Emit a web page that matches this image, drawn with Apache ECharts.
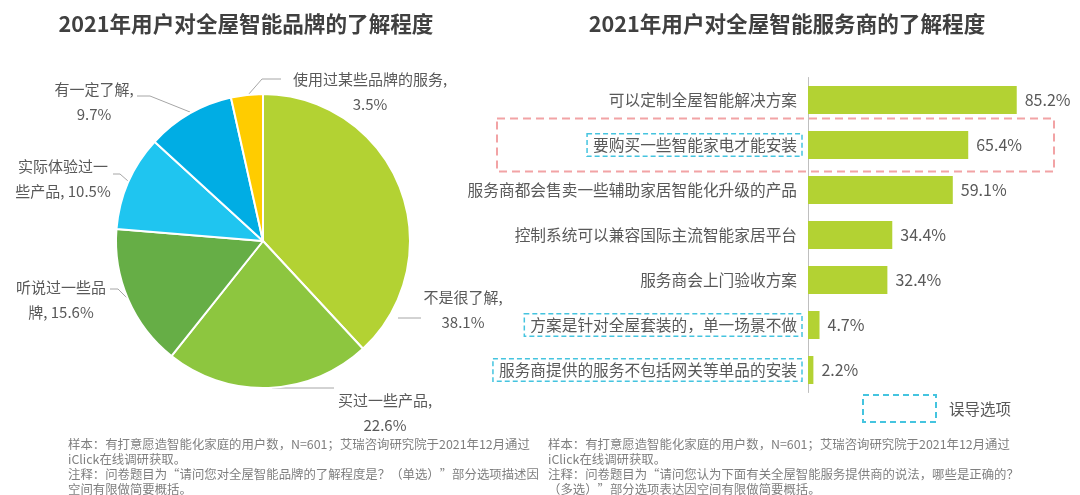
<!DOCTYPE html>
<html>
<head>
<meta charset="utf-8">
<script src="https://cdn.jsdelivr.net/npm/echarts@6/dist/echarts.min.js"></script>
<style>html,body{margin:0;padding:0;background:#fff;}#c{width:1080px;height:495px;}</style>
</head>
<body>
<div id="c"></div>
<script>
// ---- data ----
const pieTitle = '2021年用户对全屋智能品牌的了解程度';
const barTitle = '2021年用户对全屋智能服务商的了解程度';
const pieNames = ['不是很了解','买过一些产品','听说过一些品牌','实际体验过一些产品','有一定了解','使用过某些品牌的服务'];
const pieValues = [38.1, 22.6, 15.6, 10.5, 9.7, 3.5];
const pieLabelPrefix = ['不是很了解,\n', '买过一些产品,\n', '听说过一些品\n牌, ', '实际体验过一\n些产品, ', '有一定了解,\n', '使用过某些品牌的服务,\n'];
const barCategories = ['可以定制全屋智能解决方案','要购买一些智能家电才能安装','服务商都会售卖一些辅助家居智能化升级的产品','控制系统可以兼容国际主流智能家居平台','服务商会上门验收方案','方案是针对全屋套装的，单一场景不做','服务商提供的服务不包括网关等单品的安装'];
const barValues = [85.2, 65.4, 59.1, 34.4, 32.4, 4.7, 2.2];
const misleadingIdx = [1, 5, 6];
const highlightIdx = 1;
const legendText = '误导选项';
const noteLeft = ['样本：有打意愿造智能化家庭的用户数，N=601；艾瑞咨询研究院于2021年12月通过','iClick在线调研获取。','注释：问卷题目为“请问您对全屋智能品牌的了解程度是？（单选）”部分选项描述因','空间有限做简要概括。'];
const noteRight = ['样本：有打意愿造智能化家庭的用户数，N=601；艾瑞咨询研究院于2021年12月通过','iClick在线调研获取。','注释：问卷题目为“请问您认为下面有关全屋智能服务提供商的说法，哪些是正确的？','（多选）”部分选项表达因空间有限做简要概括。'];

// ---- styles / layout ----
const FONT = '"Noto Sans CJK SC","Microsoft YaHei",sans-serif';
const pieColors = ['#b3d233','#8dc63f','#66ae46','#1fc5f0','#00ade4','#ffcc00'];
const pieLabelPos = [[463,310],[385,413],[61,300],[63,179],[94,102],[370,92]];
const pieLeaderPts = [
  [[398,318],[410,318],[421,318]],
  [[272,388],[300,388],[334,388]],
  [[127,298],[118,289],[110,289]],
  [[128,181],[120,174],[113,174]],
  [[190,112],[150,96],[137,96]],
  [[248,95],[262,79],[281,79]]
];
const TEXT = '#595959';
const CYAN = '#45c4df';

const chart = echarts.init(document.getElementById('c'), null, {renderer:'canvas'});

const option = {
  animation: false,
  textStyle: {fontFamily: FONT},
  title: [
    {text: pieTitle, left: 241, top: 8, textAlign: 'center', textStyle: {fontSize: 21.6, fontWeight: 'bold', color: '#404040', fontFamily: FONT}},
    {text: barTitle, left: 782, top: 8, textAlign: 'center', textStyle: {fontSize: 21.6, fontWeight: 'bold', color: '#404040', fontFamily: FONT}}
  ],
  grid: {left: 808, right: 27, top: 77.5, bottom: 102.5, containLabel: false},
  xAxis: {type: 'value', min: 0, max: 100, show: false},
  yAxis: {
    type: 'category', inverse: true, data: barCategories,
    axisLine: {lineStyle: {color: '#bfbfbf', width: 1}},
    axisTick: {show: false},
    axisLabel: {
      margin: 6,
      formatter: (v, i) => misleadingIdx.includes(i) ? '{m|' + v + '}' : '{n|' + v + '}',
      rich: {
        m: {fontSize: 15.7, color: TEXT, fontFamily: FONT, padding: [4,5,3,6], borderColor: CYAN, borderWidth: 1.5, borderType: [5,3]},
        n: {fontSize: 15.7, color: TEXT, fontFamily: FONT, padding: [4,5,3,6]}
      }
    }
  },
  series: [
    {
      type: 'pie',
      center: [263, 241],
      radius: 147,
      startAngle: 90,
      clockwise: true,
      avoidLabelOverlap: false,
      itemStyle: {borderColor: '#fff', borderWidth: 2},
      label: {
        show: true, position: 'outside', alignTo: 'none', overflow: 'none', width: 200,
        color: TEXT, fontSize: 15, lineHeight: 25, align: 'center', fontFamily: FONT,
        formatter: p => pieLabelPrefix[p.dataIndex] + p.value + '%'
      },
      labelLine: {show: true, length: 10, length2: 15, lineStyle: {color: '#a6a6a6', width: 1}},
      labelLayout: p => ({
        x: pieLabelPos[p.dataIndex][0], y: pieLabelPos[p.dataIndex][1],
        align: 'center', verticalAlign: 'middle',
        labelLinePoints: pieLeaderPts[p.dataIndex]
      }),
      data: pieNames.map((n, i) => ({name: n, value: pieValues[i], itemStyle: {color: pieColors[i]}}))
    },
    {
      type: 'bar',
      data: barValues,
      barWidth: 28,
      itemStyle: {color: '#b3d233'},
      label: {show: true, position: 'right', distance: 8, color: TEXT, fontSize: 16, fontFamily: FONT, formatter: '{c}%'}
    }
  ]
};
chart.setOption(option);

// annotations
const yHi = chart.convertToPixel({yAxisIndex: 0}, barCategories[highlightIdx]);
const noteEls = [];
[[68, noteLeft], [548, noteRight]].forEach(([x, lines]) => {
  noteEls.push({type: 'text', x: x, y: 436.5, style: {text: lines.join('\n'), font: '12.4px ' + FONT, fill: '#7f7f7f', lineHeight: 15.2}});
});
chart.setOption({
  graphic: [
    {type: 'rect', shape: {x: 497, y: yHi - 26.5, width: 557, height: 53}, style: {fill: 'none', stroke: '#f2a3a5', lineWidth: 2, lineDash: [8,5]}},
    {type: 'rect', shape: {x: 863, y: 395, width: 73, height: 27}, style: {fill: 'none', stroke: CYAN, lineWidth: 2, lineDash: [6,4]}},
    {type: 'text', x: 949, y: 409, style: {text: legendText, font: '15.5px ' + FONT, fill: TEXT, verticalAlign: 'middle'}},
    ...noteEls
  ]
});
</script>
</body>
</html>
